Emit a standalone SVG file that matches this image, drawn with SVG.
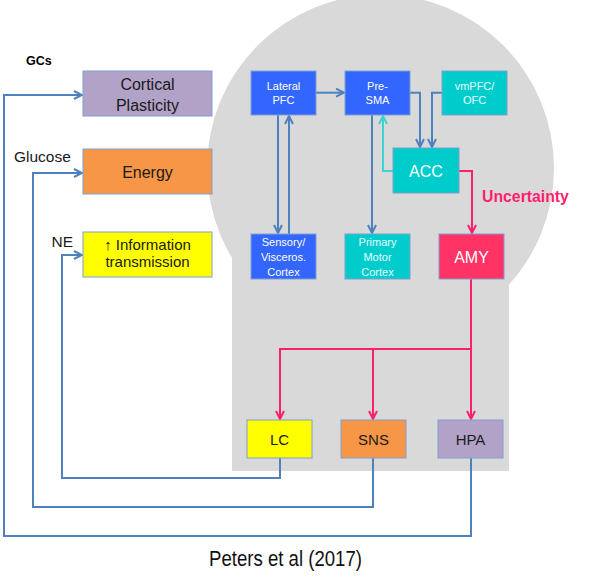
<svg xmlns="http://www.w3.org/2000/svg" width="592" height="579" viewBox="0 0 592 579">
<style>
  text { font-family: "Liberation Sans", Arial, sans-serif; }
  .box { stroke: #7f9fcf; stroke-width: 1; }
  .blue { fill: #3366ff; }
  .teal { fill: #00cccc; }
  .amy { fill: #ff3366; }
  .lav { fill: #b3a2c7; }
  .org { fill: #f79646; }
  .yel { fill: #ffff00; }
  .sm { font-size: 11px; fill: #ffffff; text-anchor: middle; }
  .smt { font-size: 11px; fill: #e6ffff; text-anchor: middle; }
  .big { font-size: 16px; fill: #ffffff; text-anchor: middle; }
  .lbl { font-size: 16px; fill: #1a1a1a; text-anchor: middle; }
  .bot { font-size: 15px; fill: #1a1a1a; text-anchor: middle; }
  .side { font-size: 15.5px; fill: #1a1a1a; }
  .bl { fill: none; stroke: #4f81bd; stroke-width: 2; }
  .cy { fill: none; stroke: #3fd4d4; stroke-width: 2; }
  .rd { fill: none; stroke: #ff1f6f; stroke-width: 2; }
</style>
<defs>
  <marker id="ab" viewBox="0 0 10 10" refX="9" refY="5" markerWidth="10" markerHeight="10" markerUnits="userSpaceOnUse" orient="auto">
    <path d="M1,1 L9,5 L1,9" fill="none" stroke="#4f81bd" stroke-width="2"/>
  </marker>
  <marker id="ac" viewBox="0 0 10 10" refX="9" refY="5" markerWidth="10" markerHeight="10" markerUnits="userSpaceOnUse" orient="auto">
    <path d="M1,1 L9,5 L1,9" fill="none" stroke="#3fd4d4" stroke-width="2"/>
  </marker>
  <marker id="ar" viewBox="0 0 10 10" refX="9" refY="5" markerWidth="10" markerHeight="10" markerUnits="userSpaceOnUse" orient="auto">
    <path d="M1,1 L9,5 L1,9" fill="none" stroke="#ff1f6f" stroke-width="2"/>
  </marker>
</defs>

<g id="background">
  <circle cx="380.5" cy="168" r="173.5" fill="#d9d9d9"/>
  <rect x="232" y="200" width="277" height="271" fill="#d9d9d9"/>
</g>

<g id="connectors">
  <path class="bl" d="M316,92.7 H344" marker-end="url(#ab)"/>
  <path class="bl" d="M278,115 V233" marker-end="url(#ab)"/>
  <path class="bl" d="M289,234 V116" marker-end="url(#ab)"/>
  <path class="bl" d="M372,115 V233" marker-end="url(#ab)"/>
  <path class="bl" d="M410,92.7 H420 V147" marker-end="url(#ab)"/>
  <path class="bl" d="M442,92.7 H432 V147" marker-end="url(#ab)"/>
  <path class="cy" d="M393,171 H383 V116" marker-end="url(#ac)"/>
  <path class="rd" d="M459,171 H472 V233" marker-end="url(#ar)"/>
  <path class="rd" d="M471,279 V349 H280 V419" marker-end="url(#ar)"/>
  <path class="rd" d="M373,349 V419" marker-end="url(#ar)"/>
  <path class="rd" d="M471,349 V419" marker-end="url(#ar)"/>
  <path class="bl" d="M280,458 V478 H62 V255 H82" marker-end="url(#ab)"/>
  <path class="bl" d="M373,458 V507 H33 V173 H82" marker-end="url(#ab)"/>
  <path class="bl" d="M471,458 V536 H4 V95 H82" marker-end="url(#ab)"/>
</g>

<g id="lateral-pfc">
  <rect class="box blue" x="251" y="71" width="65" height="44"/>
  <text class="sm" x="283.5" y="90">Lateral</text>
  <text class="sm" x="283.5" y="104">PFC</text>
</g>
<g id="pre-sma">
  <rect class="box blue" x="345" y="71" width="65" height="44"/>
  <text class="sm" x="377.5" y="90">Pre-</text>
  <text class="sm" x="377.5" y="104">SMA</text>
</g>
<g id="vmpfc-ofc">
  <rect class="box teal" x="442" y="71" width="65" height="44"/>
  <text class="smt" x="474.5" y="90">vmPFC/</text>
  <text class="smt" x="474.5" y="104">OFC</text>
</g>
<g id="acc">
  <rect class="box teal" x="393" y="148" width="66" height="45"/>
  <text class="big" x="426" y="176.5">ACC</text>
</g>
<g id="sensory-cortex">
  <rect class="box blue" x="251" y="234" width="65" height="45"/>
  <text class="sm" x="283.5" y="246">Sensory/</text>
  <text class="sm" x="283.5" y="261">Visceros.</text>
  <text class="sm" x="283.5" y="275.5">Cortex</text>
</g>
<g id="primary-motor-cortex">
  <rect class="box teal" x="345" y="234" width="65" height="45"/>
  <text class="smt" x="377.5" y="246">Primary</text>
  <text class="smt" x="377.5" y="261">Motor</text>
  <text class="smt" x="377.5" y="275.5">Cortex</text>
</g>
<g id="amy">
  <rect class="box amy" x="439" y="234" width="65" height="45"/>
  <text class="big" x="471.5" y="262.5">AMY</text>
</g>
<g id="lc">
  <rect class="box yel" x="247" y="420" width="65" height="38"/>
  <text class="bot" x="279.5" y="444.5">LC</text>
</g>
<g id="sns">
  <rect class="box org" x="341" y="420" width="65" height="38"/>
  <text class="bot" x="373.5" y="444.5">SNS</text>
</g>
<g id="hpa">
  <rect class="box lav" x="438" y="420" width="65" height="38"/>
  <text class="bot" x="470.5" y="444.5">HPA</text>
</g>
<g id="cortical-plasticity">
  <rect class="box lav" x="83" y="71" width="129" height="45"/>
  <text class="lbl" x="147.5" y="90">Cortical</text>
  <text class="lbl" x="147.5" y="110.5">Plasticity</text>
</g>
<g id="energy">
  <rect class="box org" x="83" y="149" width="129" height="45"/>
  <text class="lbl" x="147.5" y="177.5">Energy</text>
</g>
<g id="information-transmission">
  <rect class="box yel" x="83" y="232" width="129" height="45"/>
  <text x="147.5" y="250" font-size="15" fill="#1a1a1a" text-anchor="middle">↑ Information</text>
  <text x="147.5" y="266.5" font-size="15" fill="#1a1a1a" text-anchor="middle">transmission</text>
</g>

<g id="labels">
  <text x="26" y="65" font-size="12.5" font-weight="bold" fill="#000">GCs</text>
  <text class="side" x="14" y="162">Glucose</text>
  <text class="side" x="51.5" y="247">NE</text>
  <text x="482" y="202" font-size="15.8" font-weight="bold" fill="#ff1f6f">Uncertainty</text>
  <text transform="translate(285.5,566) scale(1,1.15)" font-size="18.6" fill="#111" text-anchor="middle">Peters et al (2017)</text>
</g>
</svg>
